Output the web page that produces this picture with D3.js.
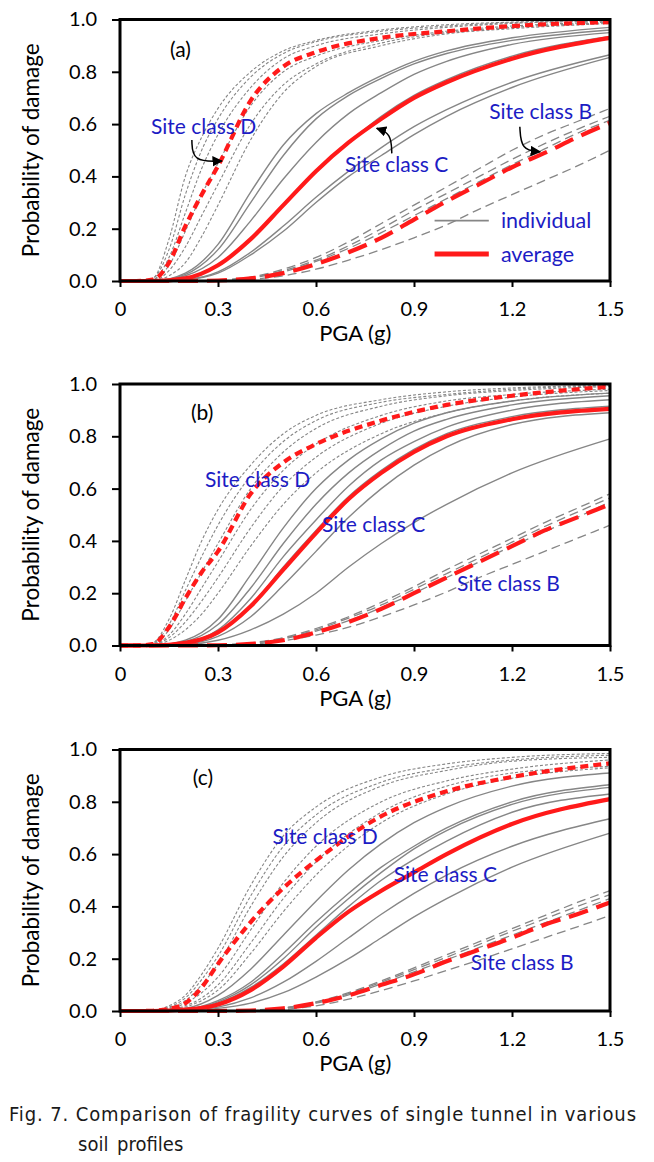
<!DOCTYPE html>
<html><head><meta charset="utf-8">
<script src="https://cdn.jsdelivr.net/npm/d3@7"></script>
<style>
body{margin:0;background:#fff}
svg text{font-family:Lato,'Open Sans',sans-serif}
</style>
</head><body>
<svg id="chart" width="654" height="1162"></svg>
<script>
// ---------- grids (PGA, g) ----------
const gridD = [0,0.05,0.1,0.15,0.2,0.25,0.3,0.4,0.5,0.6,0.8,1.0,1.2,1.5];
const gridC = [0,0.1,0.2,0.3,0.4,0.5,0.6,0.7,0.8,0.9,1.0,1.2,1.5];
const gridB = [0,0.2,0.3,0.4,0.5,0.6,0.7,0.8,0.9,1.0,1.1,1.2,1.3,1.4,1.5];

const xTicks = [0,0.3,0.6,0.9,1.2,1.5];
const xTickLabels = ["0","0.3","0.6","0.9","1.2","1.5"];
const yTicks = [0,0.2,0.4,0.6,0.8,1.0];
const yTickLabels = ["0.0","0.2","0.4","0.6","0.8","1.0"];

// ---------- panel (a) ----------
const aDgrey = [
 [0,0,0.01,0.16,0.40,0.55,0.66,0.80,0.88,0.92,0.96,0.98,0.99,0.997],
 [0,0,0.01,0.12,0.33,0.50,0.62,0.78,0.87,0.915,0.955,0.975,0.988,0.995],
 [0,0,0.005,0.09,0.26,0.43,0.56,0.74,0.85,0.90,0.945,0.97,0.985,0.994],
 [0,0,0.005,0.06,0.19,0.33,0.45,0.67,0.80,0.86,0.92,0.955,0.975,0.99],
 [0,0,0,0.04,0.13,0.25,0.37,0.60,0.75,0.83,0.91,0.95,0.97,0.988],
 [0,0,0,0.02,0.07,0.17,0.29,0.54,0.72,0.82,0.90,0.945,0.965,0.985]
];
const aDavg = [0,0,0.005,0.07,0.21,0.33,0.44,0.69,0.82,0.875,0.93,0.955,0.975,0.99];
const aCgrey = [
 [0,0,0.03,0.14,0.34,0.52,0.64,0.72,0.785,0.84,0.88,0.93,0.97],
 [0,0,0.025,0.12,0.30,0.48,0.62,0.71,0.775,0.83,0.87,0.92,0.96],
 [0,0,0.02,0.09,0.23,0.39,0.53,0.64,0.72,0.79,0.84,0.905,0.95],
 [0,0,0.01,0.06,0.16,0.29,0.42,0.53,0.63,0.71,0.77,0.86,0.935],
 [0,0,0.005,0.035,0.11,0.21,0.32,0.42,0.51,0.59,0.655,0.76,0.865],
 [0,0,0.005,0.03,0.10,0.19,0.30,0.40,0.48,0.56,0.63,0.74,0.855]
];
const aCavg = [0,0,0.01,0.06,0.16,0.29,0.42,0.53,0.62,0.70,0.76,0.85,0.93];
const aBgrey = [
 [0,0,0.003,0.015,0.045,0.09,0.15,0.22,0.29,0.36,0.43,0.50,0.56,0.61,0.66],
 [0,0,0.003,0.013,0.04,0.08,0.135,0.20,0.27,0.335,0.40,0.465,0.525,0.58,0.63],
 [0,0,0.002,0.012,0.035,0.075,0.125,0.185,0.25,0.315,0.38,0.445,0.505,0.565,0.615],
 [0,0,0.001,0.006,0.02,0.045,0.08,0.12,0.165,0.215,0.275,0.33,0.385,0.44,0.50]
];
const aBavg = [0,0,0.002,0.01,0.03,0.065,0.11,0.165,0.235,0.305,0.37,0.435,0.49,0.55,0.605];

// ---------- panel (b) ----------
const bDgrey = [
 [0,0,0.01,0.10,0.25,0.40,0.52,0.69,0.81,0.88,0.94,0.97,0.985,0.995],
 [0,0,0.008,0.08,0.21,0.34,0.46,0.65,0.78,0.86,0.93,0.96,0.98,0.993],
 [0,0,0.005,0.06,0.17,0.28,0.39,0.60,0.74,0.83,0.915,0.955,0.975,0.99],
 [0,0,0.003,0.04,0.12,0.22,0.32,0.52,0.67,0.77,0.88,0.935,0.96,0.98],
 [0,0,0.002,0.03,0.09,0.17,0.26,0.45,0.61,0.72,0.85,0.915,0.95,0.975],
 [0,0,0.001,0.02,0.06,0.12,0.20,0.38,0.54,0.66,0.81,0.89,0.935,0.965]
];
const bDavg = [0,0,0.005,0.07,0.18,0.28,0.36,0.58,0.70,0.77,0.86,0.92,0.955,0.99];
const bCgrey = [
 [0,0,0.02,0.10,0.27,0.45,0.60,0.71,0.79,0.85,0.89,0.935,0.965],
 [0,0,0.015,0.08,0.22,0.39,0.54,0.66,0.75,0.82,0.865,0.92,0.955],
 [0,0,0.01,0.06,0.18,0.34,0.48,0.61,0.71,0.78,0.835,0.90,0.94],
 [0,0,0.008,0.05,0.15,0.30,0.44,0.57,0.67,0.75,0.81,0.875,0.915],
 [0,0,0.005,0.035,0.11,0.23,0.36,0.49,0.60,0.69,0.76,0.845,0.89],
 [0,0,0.003,0.02,0.06,0.12,0.20,0.30,0.39,0.47,0.54,0.66,0.79]
];
const bCavg = [0,0,0.01,0.05,0.15,0.29,0.43,0.56,0.66,0.74,0.80,0.865,0.905];
const bBgrey = [
 [0,0,0.002,0.01,0.03,0.065,0.11,0.165,0.225,0.29,0.35,0.41,0.47,0.525,0.58],
 [0,0,0.002,0.009,0.028,0.06,0.105,0.155,0.215,0.275,0.335,0.395,0.455,0.51,0.565],
 [0,0,0.001,0.008,0.025,0.055,0.095,0.145,0.20,0.26,0.32,0.38,0.435,0.49,0.55],
 [0,0,0.001,0.005,0.018,0.04,0.07,0.11,0.155,0.205,0.26,0.31,0.36,0.41,0.46]
];
const bBavg = [0,0,0.001,0.006,0.02,0.05,0.09,0.14,0.20,0.26,0.32,0.38,0.44,0.49,0.54];

// ---------- panel (c) ----------
const cDgrey = [
 [0,0,0.002,0.02,0.06,0.14,0.24,0.48,0.67,0.78,0.895,0.945,0.97,0.985],
 [0,0,0.002,0.015,0.05,0.12,0.21,0.44,0.63,0.75,0.875,0.93,0.96,0.978],
 [0,0,0.001,0.012,0.04,0.10,0.18,0.40,0.59,0.72,0.86,0.92,0.955,0.97],
 [0,0,0.001,0.008,0.03,0.07,0.13,0.31,0.49,0.63,0.80,0.88,0.925,0.96],
 [0,0,0,0.005,0.02,0.05,0.10,0.26,0.43,0.57,0.76,0.86,0.91,0.935],
 [0,0,0,0.004,0.015,0.04,0.08,0.22,0.38,0.52,0.72,0.83,0.89,0.93]
];
const cDavg = [0,0,0.001,0.008,0.03,0.09,0.18,0.34,0.47,0.575,0.745,0.84,0.895,0.947];
const cCgrey = [
 [0,0,0.01,0.06,0.16,0.29,0.42,0.54,0.64,0.72,0.78,0.86,0.91],
 [0,0,0.006,0.04,0.11,0.22,0.34,0.45,0.55,0.63,0.70,0.80,0.865],
 [0,0,0.005,0.035,0.10,0.20,0.32,0.43,0.53,0.62,0.69,0.79,0.855],
 [0,0,0.004,0.03,0.09,0.18,0.29,0.40,0.50,0.58,0.65,0.76,0.83],
 [0,0,0.002,0.015,0.05,0.11,0.19,0.28,0.37,0.45,0.52,0.63,0.735],
 [0,0,0.001,0.01,0.03,0.07,0.13,0.20,0.28,0.36,0.43,0.55,0.68]
];
const cCavg = [0,0,0.005,0.025,0.08,0.17,0.28,0.38,0.46,0.53,0.60,0.715,0.81];
const cBgrey = [
 [0,0,0,0.003,0.012,0.035,0.07,0.115,0.165,0.215,0.265,0.315,0.365,0.415,0.46],
 [0,0,0,0.003,0.011,0.033,0.066,0.11,0.158,0.206,0.255,0.305,0.352,0.40,0.445],
 [0,0,0,0.002,0.01,0.03,0.062,0.104,0.15,0.196,0.243,0.29,0.337,0.383,0.43],
 [0,0,0,0.001,0.006,0.02,0.045,0.078,0.115,0.155,0.195,0.238,0.28,0.322,0.365]
];
const cBavg = [0,0,0,0.002,0.01,0.03,0.06,0.10,0.14,0.19,0.235,0.28,0.33,0.37,0.415];

// ---------- annotations (data coordinates) ----------
const panelTags = ["(a)","(b)","(c)"];
const tagPos = [[0.153,0.883],[0.217,0.889],[0.223,0.892]];
const siteNames = ["Site class D","Site class C","Site class B"];
const sitePosA = [[0.095,0.59],[0.689,0.444],[1.13,0.647]];
const sitePosB = [[0.26,0.633],[0.618,0.461],[1.032,0.238]];
const sitePosC = [[0.467,0.667],[0.838,0.523],[1.074,0.186]];
const arrowsA = [
 [[0.22,0.539],[0.222,0.455],[0.312,0.459]],
 [[0.832,0.488],[0.83,0.565],[0.786,0.584]],
 [[1.224,0.59],[1.228,0.50],[1.286,0.494]]
];
const legendNames = ["individual","average"];
const legendX = [0.963,1.129,1.166];
const legendY = [0.231,0.103];
const captionLines = ["Fig. 7. Comparison of fragility curves of single tunnel in various","soil profiles"];

// ---------- build ----------
const panels = [
 {D:aDgrey,Da:aDavg,C:aCgrey,Ca:aCavg,B:aBgrey,Ba:aBavg,sites:sitePosA,arrows:arrowsA,legend:true},
 {D:bDgrey,Da:bDavg,C:bCgrey,Ca:bCavg,B:bBgrey,Ba:bBavg,sites:sitePosB,arrows:[],legend:false},
 {D:cDgrey,Da:cDavg,C:cCgrey,Ca:cCavg,B:cBgrey,Ba:cBavg,sites:sitePosC,arrows:[],legend:false}
];

const svg = d3.select("#chart");
const defs = svg.append("defs");
defs.append("marker").attr("id","ah").attr("viewBox","0 0 10 10").attr("refX",9).attr("refY",5)
 .attr("markerWidth",7).attr("markerHeight",7).attr("orient","auto")
 .append("path").attr("d","M0,0L10,5L0,10z").attr("fill","#000");

const plotLeft = 120, plotRight = 610, plotH = 261.5;
const panelTops = [19.5, 384, 749.5];
const GREY = "#868686", RED = "#ff1a1a", BLUE = "#1c1cc4";

panels.forEach((P, i) => {
  const top = panelTops[i];
  const x = d3.scaleLinear().domain([0,1.5]).range([plotLeft, plotRight]);
  const y = d3.scaleLinear().domain([0,1]).range([top+plotH, top]);
  const g = svg.append("g");
  const mk = grid => d3.line().x((d,k)=>x(grid[k])).y(d=>y(d)).curve(d3.curveMonotoneX);

  P.D.forEach(s => g.append("path").attr("d", mk(gridD)(s)).attr("fill","none")
      .attr("stroke",GREY).attr("stroke-width",1.1).attr("stroke-dasharray","3,2"));
  P.C.forEach(s => g.append("path").attr("d", mk(gridC)(s)).attr("fill","none")
      .attr("stroke",GREY).attr("stroke-width",1.4));
  P.B.forEach(s => g.append("path").attr("d", mk(gridB)(s)).attr("fill","none")
      .attr("stroke",GREY).attr("stroke-width",1.3).attr("stroke-dasharray","9,5"));
  g.append("path").attr("d", mk(gridD)(P.Da)).attr("fill","none")
      .attr("stroke",RED).attr("stroke-width",4.2).attr("stroke-dasharray","8,5");
  g.append("path").attr("d", mk(gridC)(P.Ca)).attr("fill","none")
      .attr("stroke",RED).attr("stroke-width",4.2);
  g.append("path").attr("d", mk(gridB)(P.Ba)).attr("fill","none")
      .attr("stroke",RED).attr("stroke-width",4.2).attr("stroke-dasharray","20,9");

  g.append("rect").attr("x",x(0)).attr("y",y(1)).attr("width",x(1.5)-x(0)).attr("height",y(0)-y(1))
    .attr("fill","none").attr("stroke","#000").attr("stroke-width",3);

  const ya = g.append("g").attr("transform",`translate(${x(0)},0)`)
    .call(d3.axisLeft(y).tickValues(yTicks).tickFormat((d,k)=>yTickLabels[k]).tickSize(8).tickPadding(15));
  const xa = g.append("g").attr("transform",`translate(0,${y(0)})`)
    .call(d3.axisBottom(x).tickValues(xTicks).tickFormat((d,k)=>xTickLabels[k]).tickSize(6).tickPadding(15));
  [ya,xa].forEach(a=>{
    a.select(".domain").remove();
    a.selectAll("line").attr("stroke","#000").attr("stroke-width",2);
    a.selectAll("text").attr("font-size",20).attr("fill","#000").style("font-family","Lato");
  });

  g.append("text").attr("x",x(0.72)).attr("y",y(0)+60).attr("text-anchor","middle")
    .attr("font-size",22).attr("fill","#000").text("PGA (g)");
  g.append("text").attr("transform",`translate(31,${(y(0)+y(1))/2}) rotate(-90)`)
    .attr("text-anchor","middle").attr("dy","0.35em").attr("font-size",22.5).attr("fill","#000")
    .text("Probability of damage");

  g.append("text").attr("x",x(tagPos[i][0])).attr("y",y(tagPos[i][1])).attr("dy","0.35em")
    .attr("font-size",21).attr("fill","#000").text(panelTags[i]);
  siteNames.forEach((nm,k)=>{
    g.append("text").attr("x",x(P.sites[k][0])).attr("y",y(P.sites[k][1])).attr("dy","0.35em")
      .attr("font-size",21).attr("fill",BLUE).text(nm);
  });
  P.arrows.forEach(a=>{
    g.append("path").attr("d", d3.line().x(d=>x(d[0])).y(d=>y(d[1])).curve(d3.curveBasis)(a))
      .attr("fill","none").attr("stroke","#000").attr("stroke-width",1.5).attr("marker-end","url(#ah)");
  });
  if (P.legend) {
    g.append("line").attr("x1",x(legendX[0])).attr("x2",x(legendX[1])).attr("y1",y(legendY[0])).attr("y2",y(legendY[0]))
      .attr("stroke",GREY).attr("stroke-width",1.6);
    g.append("line").attr("x1",x(legendX[0])).attr("x2",x(legendX[1])).attr("y1",y(legendY[1])).attr("y2",y(legendY[1]))
      .attr("stroke",RED).attr("stroke-width",5);
    legendNames.forEach((nm,k)=>{
      g.append("text").attr("x",x(legendX[2])).attr("y",y(legendY[k])).attr("dy","0.35em")
        .attr("font-size",21.5).attr("fill",BLUE).text(nm);
    });
  }
});

// caption
const capFont = "'DejaVu Sans Condensed','Liberation Sans Narrow',sans-serif";
const cap1 = svg.append("text").attr("x",9).attr("y",1121).attr("font-size",20)
  .style("font-family",capFont).style("font-stretch","condensed").attr("fill","#1a1a1a")
  .text(captionLines[0]);
const w1 = cap1.node().getComputedTextLength();
if (w1 < 627) cap1.attr("textLength",627).attr("lengthAdjust","spacing");
else cap1.attr("font-size", 20*627/w1);
svg.append("text").attr("x",78).attr("y",1151).attr("font-size",20)
  .style("font-family",capFont).style("font-stretch","condensed").attr("fill","#1a1a1a")
  .attr("word-spacing",3)
  .text(captionLines[1]);
</script>
</body></html>
